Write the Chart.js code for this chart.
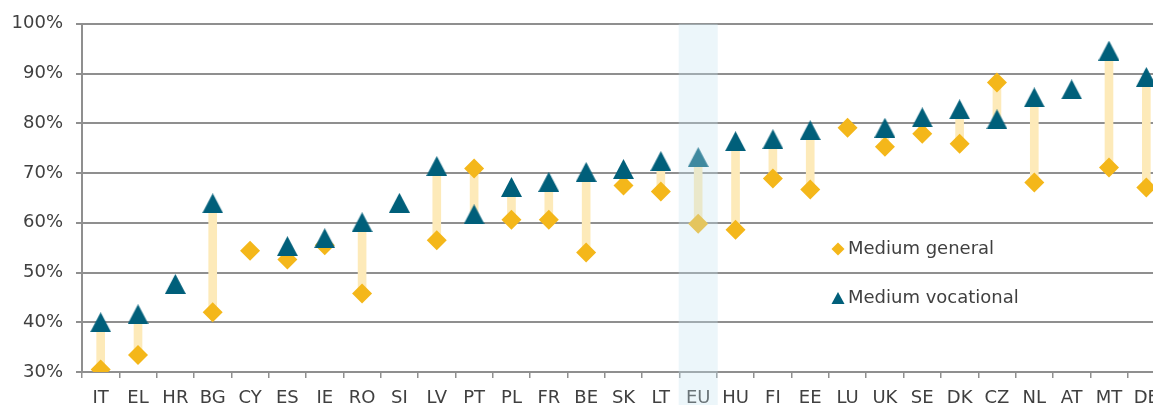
<!DOCTYPE html>
<html>
<head>
<meta charset="utf-8">
<script src="https://cdn.jsdelivr.net/npm/chart.js@4.4.1/dist/chart.umd.min.js"></script>
<style>
  html, body { margin: 0; padding: 0; overflow: hidden; background: #fff; }
  #chart { display: block; }
</style>
</head>
<body>
<canvas id="chart" width="1153" height="405"></canvas>
<script>
// ---------- data ----------
const countries = ['IT', 'EL', 'HR', 'BG', 'CY', 'ES', 'IE', 'RO', 'SI', 'LV', 'PT', 'PL', 'FR', 'BE', 'SK',
  'LT', 'EU', 'HU', 'FI', 'EE', 'LU', 'UK', 'SE', 'DK', 'CZ', 'NL', 'AT', 'MT', 'DE'];

// Medium general (diamonds)
const mediumGeneral = [30.5, 33.4, null, 42.0, 54.4, 52.6, 55.5, 45.8, null, 56.5, 70.9, 60.6, 60.6, 54.0, 67.5,
  66.3, 59.8, 58.6, 68.9, 66.7, 79.1, 75.3, 77.9, 75.9, 88.2, 68.1, null, 71.1, 67.1];

// Medium vocational (triangles)
const mediumVocational = [40.0, 41.6, 47.7, 63.9, null, 55.3, 56.9, 60.1, 64.0, 71.4, 61.7, 67.2, 68.2, 70.2, 70.8,
  72.4, 73.2, 76.4, 76.8, 78.6, null, 79.1, 81.2, 82.8, 80.8, 85.2, 86.8, 94.6, 89.3];

const yMin = 30;
const yMax = 100;
const yStep = 10;
const highlight = 'EU';

// ---------- colours ----------
const gold = '#F4B71A';
const teal = '#005F7A';
const paleGold = '#FDEAB9';
const gridGrey = '#8F8F8F';
const textGrey = '#404040';
const FONT = 'DejaVu Sans, Verdana, sans-serif';

// 두 값 사이 연결 막대
const gapBars = countries.map((c, i) => {
  const g = mediumGeneral[i];
  const v = mediumVocational[i];
  if (g === null || v === null) return null;
  return [Math.min(g, v), Math.max(g, v)];
});

// triangle marker centred on its bounding box (like the original)
function makeTriangle(w, h, color) {
  const cv = document.createElement('canvas');
  cv.width = w;
  cv.height = h;
  const c = cv.getContext('2d');
  c.fillStyle = color;
  c.beginPath();
  c.moveTo(w / 2, 0);
  c.lineTo(w, h);
  c.lineTo(0, h);
  c.closePath();
  c.fill();
  return cv;
}
const triangleMark = makeTriangle(21, 20, teal);

// ---------- plugins ----------
// the original plot is cut off at the right edge: stretch the plot area past the canvas
function stretchRight(chart) {
  const right = chart.width + 12;
  const x = chart.scales.x;
  chart.chartArea.right = right;
  chart.chartArea.width = right - chart.chartArea.left;
  x.right = right;
  x.width = right - x.left;
  x.configure();
}
const overflowPlugin = {
  id: 'overflowRight',
  afterLayout(chart) { stretchRight(chart); },
  beforeDatasetsUpdate(chart) { stretchRight(chart); },
};

// EU column highlight drawn on top of everything
const highlightPlugin = {
  id: 'highlight',
  afterDraw(chart) {
    const x = chart.scales.x.getPixelForValue(countries.indexOf(highlight));
    const ctx = chart.ctx;
    ctx.save();
    ctx.fillStyle = 'rgba(197, 228, 240, 0.32)';
    ctx.fillRect(x - 19.5, chart.chartArea.top, 39, chart.height - chart.chartArea.top);
    ctx.restore();
  },
};

// legend inside the plot
const legendPlugin = {
  id: 'innerLegend',
  afterDatasetsDraw(chart) {
    const ctx = chart.ctx;
    ctx.save();
    ctx.font = '18px ' + FONT;
    ctx.textBaseline = 'middle';
    ctx.textAlign = 'left';

    // diamond
    ctx.fillStyle = gold;
    ctx.beginPath();
    ctx.moveTo(838, 242.5);
    ctx.lineTo(844.5, 249);
    ctx.lineTo(838, 255.5);
    ctx.lineTo(831.5, 249);
    ctx.closePath();
    ctx.fill();
    ctx.fillStyle = textGrey;
    ctx.fillText('Medium general', 848, 249);

    // triangle
    ctx.fillStyle = teal;
    ctx.beginPath();
    ctx.moveTo(838, 292);
    ctx.lineTo(844.5, 304);
    ctx.lineTo(831.5, 304);
    ctx.closePath();
    ctx.fill();
    ctx.fillStyle = textGrey;
    ctx.fillText('Medium vocational', 848, 298);
    ctx.restore();
  },
};

// ---------- chart ----------
const data = {
  labels: countries,
  datasets: [
    {
      label: 'Medium vocational',
      type: 'line',
      data: mediumVocational,
      showLine: false,
      pointStyle: triangleMark,
      pointRadius: 10,
      order: 1,
    },
    {
      label: 'Medium general',
      type: 'line',
      data: mediumGeneral,
      showLine: false,
      pointStyle: 'rectRot',
      pointRadius: 10,
      pointBackgroundColor: gold,
      pointBorderWidth: 0,
      order: 2,
    },
    {
      label: 'gap',
      type: 'bar',
      data: gapBars,
      backgroundColor: paleGold,
      barThickness: 8,
      grouped: false,
      order: 3,
    },
  ],
};

const config = {
  type: 'bar',
  data: data,
  options: {
    responsive: false,
    animation: false,
    layout: {
      padding: { top: 23, right: 0, bottom: 0, left: 0 },
    },
    plugins: {
      legend: { display: false },
      title: { display: false },
      tooltip: { enabled: false },
    },
    scales: {
      x: {
        offset: true,
        afterFit: (s) => { s.height = 33; },
        grid: {
          offset: true,
          drawOnChartArea: false,
          drawTicks: true,
          tickLength: 6,
          color: gridGrey,
          lineWidth: 1.5,
        },
        border: { display: true, color: gridGrey, width: 2 },
        ticks: {
          color: textGrey,
          font: { family: FONT, size: 18 },
          padding: 10,
          autoSkip: false,
          maxRotation: 0,
        },
      },
      y: {
        min: yMin,
        max: yMax,
        afterFit: (s) => { s.width = 82; },
        grid: {
          color: gridGrey,
          lineWidth: 2,
          drawTicks: true,
          tickLength: 6,
        },
        border: { display: true, color: gridGrey, width: 2 },
        ticks: {
          stepSize: yStep,
          color: textGrey,
          font: { family: FONT, size: 18 },
          padding: 13,
          callback: (v) => v + '%',
        },
      },
    },
  },
  plugins: [overflowPlugin, legendPlugin, highlightPlugin],
};

const myChart = new Chart(document.getElementById('chart'), config);
</script>
</body>
</html>
